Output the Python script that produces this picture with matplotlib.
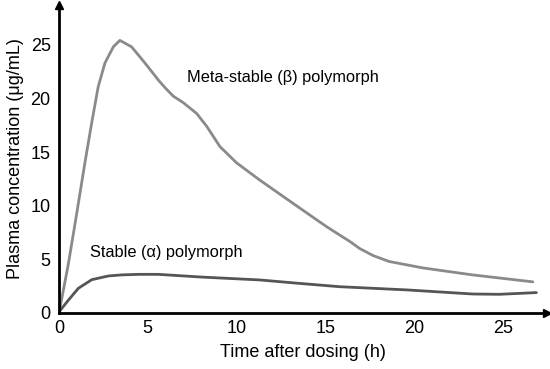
import matplotlib
matplotlib.use("Agg")
import matplotlib.pyplot as plt

plt.rcParams["font.family"] = ["Liberation Sans", "DejaVu Sans"]

meta_t = [0, 0.53, 1.0, 1.46, 1.84, 2.21, 2.59, 3.06, 3.43, 4.09, 4.84, 5.6,
          5.97, 6.44, 7.0, 7.75, 8.32, 9.07, 10.0, 11.3, 13.2, 15.07, 16.4,
          16.95, 17.7, 18.6, 20.5, 23.3, 26.7]
meta_c = [0, 4.6, 9.3, 14.0, 17.7, 21.1, 23.3, 24.8, 25.4, 24.8, 23.3, 21.7,
          21.0, 20.2, 19.6, 18.6, 17.4, 15.5, 14.0, 12.4, 10.2, 8.05, 6.65,
          6.0, 5.35, 4.8, 4.2, 3.55, 2.9]

stable_t = [0, 0.53, 1.09, 1.84, 2.78, 3.53, 4.5, 5.6, 8.0, 11.3, 13.6, 15.8,
            19.6, 23.3, 24.8, 26.9]
stable_c = [0.1, 1.2, 2.3, 3.1, 3.45, 3.55, 3.6, 3.6, 3.35, 3.08, 2.75, 2.45,
            2.15, 1.77, 1.74, 1.9]

xticks = [0, 5, 10, 15, 20, 25]
yticks = [0, 5, 10, 15, 20, 25]

fig = plt.figure(figsize=(5.5, 3.69), dpi=100)
ax = fig.add_axes([0.1073, 0.1518, 0.8873, 0.8347])

ax.plot(meta_t, meta_c, color="#8a8a8a", lw=2.0,
        solid_capstyle="round", solid_joinstyle="round")
ax.plot(stable_t, stable_c, color="#555555", lw=2.0,
        solid_capstyle="round", solid_joinstyle="round")

ax.text(7.2, 21.9, "Meta-stable (\u03b2) polymorph", fontsize=11.8, va="center")
ax.text(1.75, 5.6, "Stable (\u03b1) polymorph", fontsize=11.8, va="center")

ax.set_xlim(0, 27.5)
ax.set_ylim(0, 28.7)
ax.set_xticks(xticks)
ax.set_yticks(yticks)
ax.tick_params(length=0, labelsize=13)
ax.tick_params(axis="y", pad=6)
ax.tick_params(axis="x", pad=5)

for s in ["top", "right"]:
    ax.spines[s].set_visible(False)
for s in ["left", "bottom"]:
    ax.spines[s].set_linewidth(2)
    ax.spines[s].set_color("black")

# arrow heads at axis ends
ax.plot(1, 0, ">k", ms=6, transform=ax.transAxes, clip_on=False)
ax.plot(0, 1, "^k", ms=6, transform=ax.transAxes, clip_on=False)

ax.set_xlabel("Time after dosing (h)", fontsize=13, labelpad=5)
ax.set_ylabel("Plasma concentration (\u03bcg/mL)", fontsize=13, labelpad=5)

fig.savefig("out.png", dpi=100)
